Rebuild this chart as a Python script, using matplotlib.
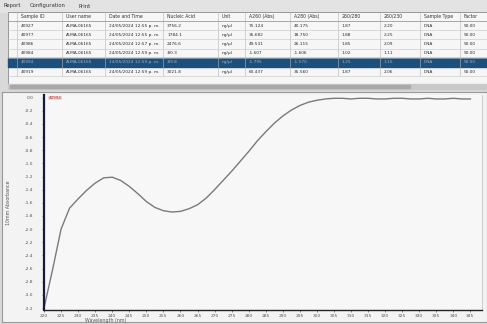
import matplotlib.pyplot as plt
from matplotlib.patches import Rectangle

W, H = 487, 324

# absorbance spectrum of the selected sample (10 mm path), every 2.5 nm
wavelength = [220, 222.5, 225, 227.5, 230, 232.5, 235, 237.5, 240, 242.5,
              245, 247.5, 250, 252.5, 255, 257.5, 260, 262.5, 265, 267.5,
              270, 272.5, 275, 277.5, 280, 282.5, 285, 287.5, 290, 292.5,
              295, 297.5, 300, 302.5, 305, 307.5, 310, 312.5, 315, 317.5,
              320, 322.5, 325, 327.5, 330, 332.5, 335, 337.5, 340, 342.5, 345]
absorbance = [-3.20, -2.62, -2.00, -1.68, -1.54, -1.41, -1.30, -1.22, -1.21, -1.26,
              -1.35, -1.46, -1.58, -1.67, -1.72, -1.74, -1.73, -1.69, -1.63, -1.53,
              -1.40, -1.26, -1.12, -0.97, -0.82, -0.66, -0.52, -0.39, -0.28, -0.19,
              -0.12, -0.07, -0.04, -0.02, -0.01, -0.01, -0.02, -0.01, -0.01, -0.02,
              -0.02, -0.01, -0.01, -0.02, -0.02, -0.01, -0.02, -0.02, -0.01, -0.02,
              -0.02]

y_ticks = [0.0, -0.2, -0.4, -0.6, -0.8, -1.0, -1.2, -1.4, -1.6, -1.8, -2.0,
           -2.2, -2.4, -2.6, -2.8, -3.0, -3.2]
x_ticks = list(range(220, 350, 5))

menu_items = ["Report", "Configuration", "Print"]
columns = ["Sample ID", "User name", "Date and Time", "Nucleic Acid", "Unit",
           "A260 (Abs)", "A280 (Abs)", "260/280", "260/230", "Sample Type", "Factor"]

sample_ids = ["40927", "40977", "40986", "40984", "40994", "40919"]
user_names = ["ALMA-06165"] * 6
dates = ["24/05/2024 12:55 p. m.", "24/05/2024 12:55 p. m.", "24/05/2024 12:57 p. m.",
         "24/05/2024 12:59 p. m.", "24/05/2024 12:59 p. m.", "24/05/2024 12:59 p. m."]
nucleic_acid = ["3756.2", "1784.1", "2476.6", "-80.3", "-89.8", "3021.8"]
units = ["ng/µl"] * 6
a260 = ["75.124", "35.682", "49.531", "-1.607", "-1.795", "60.437"]
a280 = ["40.175", "18.750", "26.115", "-1.606", "-1.570", "35.560"]
ratio_280 = ["1.87", "1.88", "1.85", "1.02", "1.25", "1.87"]
ratio_230 = ["2.20", "2.25", "2.09", "1.11", "1.15", "2.06"]
sample_types = ["DNA"] * 6
factors = ["50.00"] * 6
selected = 4

col_x = [17, 62, 105, 163, 218, 245, 290, 338, 380, 420, 460, 487]


def px_axes(fig, left, top, right, bottom, **kw):
    return fig.add_axes([left / W, 1 - bottom / H, (right - left) / W,
                         (bottom - top) / H], **kw)


fig = plt.figure(figsize=(W / 100, H / 100), dpi=100)
fig.patch.set_facecolor("#d9d9d9")

# ---- window with menu and sample table ----
top = px_axes(fig, 0, 0, W, 92)
top.set_xlim(0, W)
top.set_ylim(92, 0)
top.axis("off")
top.add_patch(Rectangle((0, 0), W, 12, color="#e3e3e3"))
mx = 4
for item in menu_items:
    top.text(mx, 6, item, fontsize=3.8, va="center", color="#333333")
    mx += len(item) * 3.3 + 6

top.add_patch(Rectangle((8, 12), W - 8, 72, facecolor="#f6f6f6",
                        edgecolor="#8a8a8a", lw=0.6))
row_h = 9.2
head_y = 16.5
for c, name in enumerate(columns):
    top.text(col_x[c] + 4, head_y, name, fontsize=3.3, va="center", color="#333333")
    top.plot([col_x[c], col_x[c]], [12, 21 + 6 * row_h], color="#b5b5b5", lw=0.4)
top.plot([8, W], [21, 21], color="#8a8a8a", lw=0.5)

table = [sample_ids, user_names, dates, nucleic_acid, units, a260, a280,
         ratio_280, ratio_230, sample_types, factors]
for r in range(6):
    y0 = 21 + r * row_h
    if r == selected:
        top.add_patch(Rectangle((8, y0), W - 8, row_h, color="#1d4f7c"))
        tc = "#9fb4c8"
    else:
        top.plot([8, W], [y0 + row_h, y0 + row_h], color="#c4c4c4", lw=0.4)
        tc = "#2a2a2a"
    for c, col in enumerate(table):
        top.text(col_x[c] + 4, y0 + row_h / 2, col[r], fontsize=3.1,
                 va="center", color=tc)

# horizontal scroll bar
top.add_patch(Rectangle((8, 84), W - 8, 5, color="#c9c9c9"))
top.add_patch(Rectangle((10, 85), 400, 3, color="#a9a9a9"))

# ---- spectrum panel ----
panel = px_axes(fig, 2, 92, W, 322)
panel.set_xticks([])
panel.set_yticks([])
panel.set_facecolor("#f3f3f3")
for s in panel.spines.values():
    s.set_color("#9a9a9a")
    s.set_linewidth(0.8)

ax = px_axes(fig, 44, 95, 482, 310)
ax.set_facecolor("#f7f7f7")
ax.plot(wavelength, absorbance, color="#7a7a7a", lw=1.0)
ax.set_xlim(220, 348.4)
ax.set_ylim(-3.23, 0.04)
ax.set_yticks(y_ticks)
ax.set_yticklabels([f"{v:.1f}" for v in y_ticks])
ax.set_xticks(x_ticks)
ax.tick_params(axis="both", labelsize=3.2, length=1.5, width=0.5, pad=1.5,
               colors="#555555")
ax.tick_params(axis="y", pad=6)
ax.spines["left"].set_color("#141a3a")
ax.spines["left"].set_linewidth(1.6)
ax.spines["bottom"].set_color("#222222")
ax.spines["bottom"].set_linewidth(1.0)
ax.spines["top"].set_visible(False)
ax.spines["right"].set_color("#c4c4c4")
ax.spines["right"].set_linewidth(0.6)
ax.set_xlabel("Wavelength (nm)", fontsize=3.4, color="#555555")
ax.xaxis.set_label_coords(0.14, -0.035)
ax.set_ylabel("10mm Absorbance", fontsize=3.4, color="#555555", labelpad=10)

# selected sample tag
ax.text(0.01, 0.995, sample_ids[selected], transform=ax.transAxes, fontsize=3,
        color="#b03030", va="top", ha="left",
        bbox=dict(facecolor="#f0d8d8", edgecolor="none", pad=0.3))

fig.savefig("out.png", dpi=100)
